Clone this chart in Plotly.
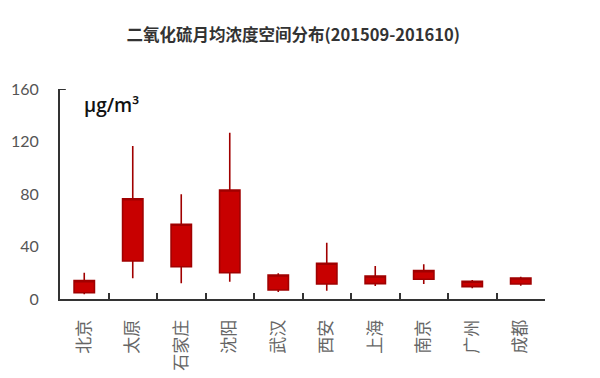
import plotly.graph_objects as go

cities = ["北京", "太原", "石家庄", "沈阳", "武汉", "西安", "上海", "南京", "广州", "成都"]
low = [3.6, 15.8, 12.0, 13.2, 5.4, 6.3, 9.9, 11.4, 8.2, 10.1]
q1 = [4.8, 29.0, 24.6, 20.0, 6.9, 11.4, 11.7, 15.0, 9.4, 11.4]
q3 = [14.0, 76.4, 56.9, 83.0, 18.3, 27.2, 17.5, 21.6, 13.5, 16.0]
high = [20.0, 116.6, 79.8, 126.7, 19.6, 42.9, 25.1, 26.4, 14.5, 17.0]
y_ticks = [0, 40, 80, 120, 160]

fig = go.Figure()
fig.add_trace(go.Box(
    x=cities, q1=q1, median=q3, q3=q3, lowerfence=low, upperfence=high,
    width=0.42, whiskerwidth=0, boxpoints=False,
    fillcolor="#c80000", line=dict(color="#a00000", width=1.6),
    hoverinfo="skip", showlegend=False,
))

fig.update_layout(
    width=600, height=378,
    margin=dict(l=52, r=63, t=81, b=87, autoexpand=False),
    paper_bgcolor="white", plot_bgcolor="white",
    title=dict(text="<b>二氧化硫月均浓度空间分布(201509-201610)</b>",
               x=0.481, xanchor="center", xref="paper", y=1 - 27 / 378, yanchor="middle",
               automargin=False,
               font=dict(family="Noto Sans CJK SC", size=16.5, color="#333333")),
    xaxis=dict(type="category", range=[-0.5, 9.5], showline=True, linecolor="#333333",
               linewidth=2, ticks="inside", tickson="boundaries", ticklen=6,
               tickcolor="#333333", tickwidth=2, tickangle=-90, showgrid=False,
               ticklabelstandoff=12, automargin=False,
               tickfont=dict(family="Noto Sans CJK SC", size=17, color="#666666")),
    yaxis=dict(range=[0, 160], tickvals=y_ticks, showline=True, linecolor="#333333",
               linewidth=2, ticks="", showgrid=False, zeroline=False,
               ticklabelstandoff=16, automargin=False,
               tickfont=dict(family="Lato", size=16, color="#555555")),
    shapes=[dict(type="line", xref="paper", yref="y", x0=0, x1=0.012, y0=160, y1=160,
                 line=dict(color="#333333", width=2))],
    annotations=[dict(text="μg/m³", xref="paper", yref="y", x=0.045, y=148,
                      xanchor="left", yanchor="middle", showarrow=False,
                      font=dict(family="Open Sans", size=19, weight=600, color="#111111"))],
)

fig.write_html("out.html")
